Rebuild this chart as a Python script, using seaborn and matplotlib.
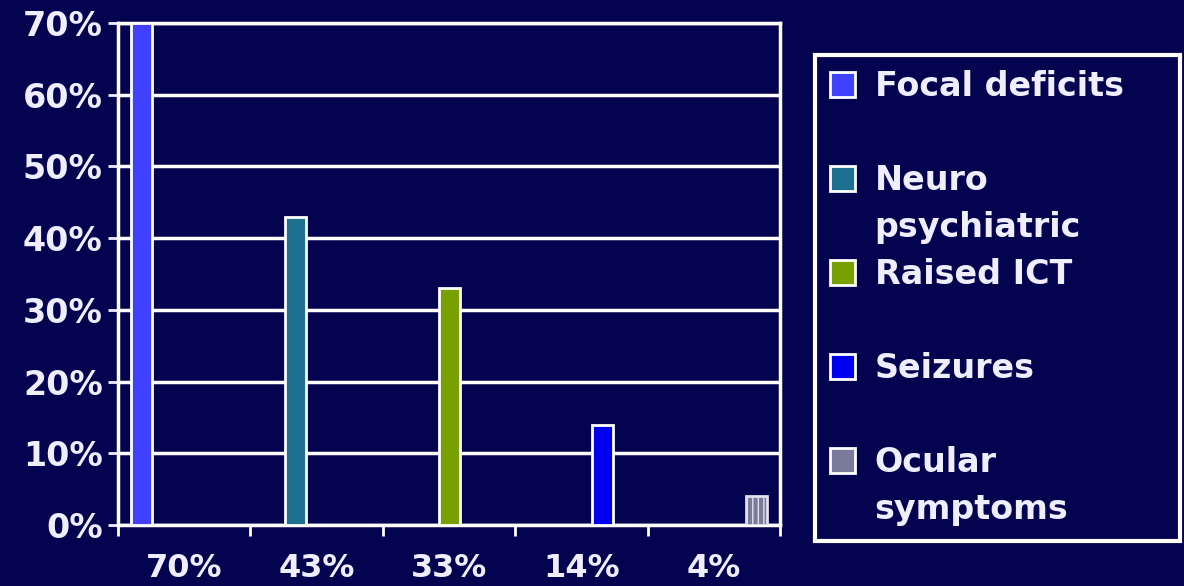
import matplotlib
matplotlib.use("Agg")
import matplotlib.pyplot as plt
import seaborn as sns
import pandas as pd
from matplotlib.patches import Patch
from matplotlib.ticker import PercentFormatter, FixedLocator

categories = ["70%", "43%", "33%", "14%", "4%"]
series = ["Focal deficits", "Neuro psychiatric", "Raised ICT", "Seizures", "Ocular symptoms"]
values = [0.70, 0.43, 0.33, 0.14, 0.04]
colors = ["#4040ff", "#1e7090", "#78a000", "#0000f0", "#7a7a9a"]
legend_lines = [["Focal deficits"], ["Neuro", "psychiatric"], ["Raised ICT"],
                ["Seizures"], ["Ocular", "symptoms"]]

df = pd.DataFrame({"category": categories, "series": series, "value": values})

BG = "#03034f"
FG = "#eeeeff"

sns.set_theme(style="white")
plt.rcParams["font.family"] = ["DejaVu Sans"]
plt.rcParams["font.weight"] = "bold"

fig = plt.figure(figsize=(11.84, 5.86), dpi=100, facecolor=BG)
ax = fig.add_axes([0.0997, 0.104, 0.5593, 0.857])
ax.set_facecolor(BG)

sns.barplot(data=df, x="category", y="value", hue="series", order=categories,
            hue_order=series, palette=colors, saturation=1, dodge=True, width=0.8,
            edgecolor="white", linewidth=2, ax=ax, legend=False, zorder=3)

# hatch the ocular bar
for p in ax.patches:
    if abs(p.get_height() - values[4]) < 1e-9:
        p.set_hatch("|||")
        p.set_edgecolor("#e0e0ee")

ax.set_ylim(0, 0.70)
ax.set_xlim(-0.5, 4.5)
ax.yaxis.set_major_formatter(PercentFormatter(1.0, decimals=0))
ax.set_yticks([i / 10 for i in range(8)])
ax.yaxis.grid(True, color="white", linewidth=2.5, zorder=0)
ax.set_axisbelow(True)
ax.set_xlabel("")
ax.set_ylabel("")

for s in ax.spines.values():
    s.set_color("white")
    s.set_linewidth(2.5)
    s.set_visible(True)

ax.tick_params(axis="y", colors=FG, labelsize=24, length=7, width=2, direction="out", pad=4,
               left=True)
ax.tick_params(axis="x", which="major", colors=FG, labelsize=23, length=0, pad=20)
ax.xaxis.set_minor_locator(FixedLocator([i - 0.5 for i in range(6)]))
ax.tick_params(axis="x", which="minor", color="white", length=8, width=2, direction="out",
               bottom=True)
for lab in ax.get_xticklabels() + ax.get_yticklabels():
    lab.set_fontweight("bold")
    lab.set_color(FG)

# legend: one row per text line, handle only on the first line of each entry
handles, labels = [], []
for col, lines in zip(colors, legend_lines):
    handles.append(Patch(facecolor=col, edgecolor="white", linewidth=2))
    labels.append(lines[0])
    if len(lines) > 1:
        for extra in lines[1:]:
            handles.append(Patch(facecolor="none", edgecolor="none"))
            labels.append(extra)
    else:
        handles.append(Patch(facecolor="none", edgecolor="none"))
        labels.append(" ")
leg = fig.legend(handles, labels, loc="upper left",
                 bbox_to_anchor=(0.688, 0.078, 0.309, 0.828), mode="expand",
                 frameon=True, framealpha=1, fontsize=24, labelspacing=0.42,
                 handlelength=0.75, handleheight=0.75, handletextpad=0.6,
                 borderpad=0.45, borderaxespad=0, fancybox=False)
frame = leg.get_frame()
frame.set_facecolor(BG)
frame.set_edgecolor("white")
frame.set_linewidth(3)
for t in leg.get_texts():
    t.set_color(FG)
    t.set_fontweight("bold")

fig.savefig("out.png", dpi=100, facecolor=BG)
